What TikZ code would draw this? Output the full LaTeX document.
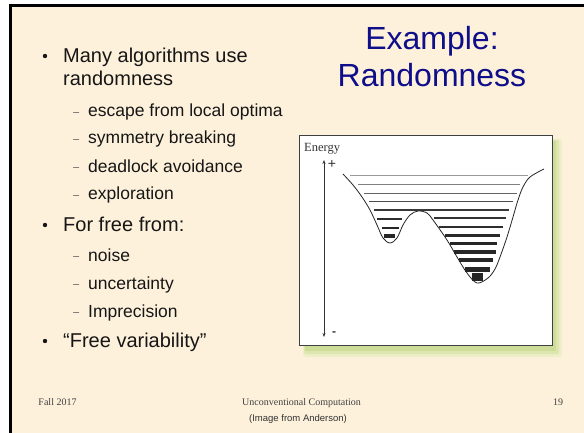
\documentclass[tikz,border=0pt]{standalone}
\usepackage{fontspec}
\setmainfont{Liberation Sans}
\newfontfamily\seriffont{Liberation Serif}
\usetikzlibrary{arrows.meta}
\definecolor{cream}{RGB}{254,241,219}
\definecolor{navy}{RGB}{14,14,138}
\definecolor{txt}{RGB}{22,22,22}
\definecolor{shadeA}{RGB}{238,238,200}
\definecolor{shadeB}{RGB}{222,230,175}
\definecolor{shadeC}{RGB}{205,220,150}
\tikzset{
  main/.style={anchor=base west,inner sep=0pt,text=txt,font=\fontsize{20}{24}\selectfont},
  sub/.style={anchor=base west,inner sep=0pt,text=txt,font=\fontsize{17.5}{21}\selectfont},
  bul/.style={circle,fill=txt,inner sep=0pt,minimum size=4.4pt},
  dsh/.style={draw=txt!80,line width=0.7pt,minimum width=6pt,inner sep=0pt,minimum height=0pt,shape=rectangle},
  ttl/.style={anchor=base,inner sep=0pt,text=navy,font=\fontsize{32}{36}\selectfont},
  foot/.style={anchor=base,inner sep=0pt,text=black!75,font=\seriffont\fontsize{10}{12}\selectfont},
  lvl/.style={line cap=butt},
}
\begin{document}
\begin{tikzpicture}[x=1pt,y=-1pt]
\useasboundingbox (0,0) rectangle (584,433);
\fill[white] (0,0) rectangle (584,433);
\fill[cream] (10,5) rectangle (584,433);
\draw[line width=2.5pt] (8.5,5.3) -- (584,5.3);
\draw[line width=3pt] (10,4) -- (10,433);

% title
\node[ttl] (t1) at (432,50) {Example:};
\node[ttl] (t2) at (432,87) {Randomness};

% bullets
\node[bul] (d1) at (45,56) {};
\node[main] (m1) at (63,62.7) {Many algorithms use};
\node[main] (m1b) at (63,86) {randomness};
\node[dsh] (s1d) at (76,112) {};
\node[sub] (s1) at (88,117) {escape from local optima};
\node[dsh] (s2d) at (76,139) {};
\node[sub] (s2) at (88,144) {symmetry breaking};
\node[dsh] (s3d) at (76,167) {};
\node[sub] (s3) at (88,172) {deadlock avoidance};
\node[dsh] (s4d) at (76,195) {};
\node[sub] (s4) at (88,200) {exploration};
\node[bul] (d2) at (45,225) {};
\node[main] (m2) at (63,231) {For free from:};
\node[dsh] (s5d) at (76,256) {};
\node[sub] (s5) at (88,261) {noise};
\node[dsh] (s6d) at (76,284) {};
\node[sub] (s6) at (88,289) {uncertainty};
\node[dsh] (s7d) at (76,312) {};
\node[sub] (s7) at (88,317) {Imprecision};
\node[bul] (d3) at (45,341) {};
\node[main] (m3) at (63,347) {“Free variability”};

% image shadow
\fill[shadeA,rounded corners=3pt] (303,139) rectangle (562,357);
\fill[shadeB,rounded corners=2pt] (304,140) rectangle (559,354);
\fill[shadeC] (305,141) rectangle (556,351);
% image box
\draw[fill=white,draw=black!75,line width=0.9pt] (299.5,135) rectangle (552,345.5);

\node[anchor=base west,inner sep=0pt,font=\seriffont\fontsize{12.5}{14}\selectfont,text=black!80] (en) at (304,152) {Energy};
\coordinate (atop) at (324,160);
\coordinate (abot) at (324,337);
\draw[black!80,line width=0.6pt,{Stealth[length=4pt,width=3pt]}-{Stealth[length=4pt,width=3pt]}] (atop) -- (abot);
\node[inner sep=0pt,font=\fontsize{14}{15}\selectfont,text=black!80] (plus) at (332,164) {+};
\node[inner sep=0pt,font=\bfseries\fontsize{12}{13}\selectfont,text=black!80] (minus) at (334,334) {-};

% energy curve
\draw[black!85,line width=0.8pt] plot[smooth,tension=0.55] coordinates {
 (343,174) (353,185) (362,197) (370,210) (377,225) (383,238) (390,243)
 (397,238) (403,225) (410,215) (418,211) (427,213) (433,220) (447,240)
 (457,257) (467,273) (477,283) (488,278) (495,269) (500,257) (507,237)
 (513,217) (518,200) (523,187) (530,177) (544,169)};

% energy levels
\draw[lvl,black!40,line width=0.6pt] (350,175.7) -- (528,175.7);
\draw[lvl,black!50,line width=0.7pt] (358,184) -- (520,184);
\draw[lvl,black!60,line width=0.8pt] (364,193) -- (517,193);
\draw[lvl,black!70,line width=1.0pt] (369,202) -- (513,202);
\draw[lvl,black!78,line width=1.2pt] (374,210) -- (509,210);
\draw[lvl,black!82,line width=1.8pt] (377,219) -- (402,219);
\draw[lvl,black!85,line width=2.5pt] (382,228) -- (399,228);
\draw[lvl,black!85,line width=3.2pt] (384,236) -- (395,236);
\draw[lvl,black!80,line width=1.5pt] (434,218) -- (506,218);
\draw[lvl,black!82,line width=2.2pt] (439,227) -- (503,227);
\draw[lvl,black!84,line width=3.0pt] (445,235) -- (500,235);
\draw[lvl,black!85,line width=3.5pt] (450,243.5) -- (497,243.5);
\draw[lvl,black!85,line width=4.0pt] (454,252) -- (496,252);
\draw[lvl,black!85,line width=4.5pt] (459,260) -- (493,260);
\draw[lvl,black!85,line width=5.0pt] (465,269) -- (490,269);
\fill[black!85] (472,273) rectangle (483,281);

% footer
\node[foot] (f1) at (57.5,405) {Fall 2017};
\node[foot] (f2) at (301.5,405.5) {Unconventional Computation};
\node[anchor=base,inner sep=0pt,text=black!80,font=\fontsize{9.5}{11}\selectfont] (f3) at (298,421) {(Image from Anderson)};
\node[foot] (f4) at (558,405) {19};
\end{tikzpicture}
\end{document}
